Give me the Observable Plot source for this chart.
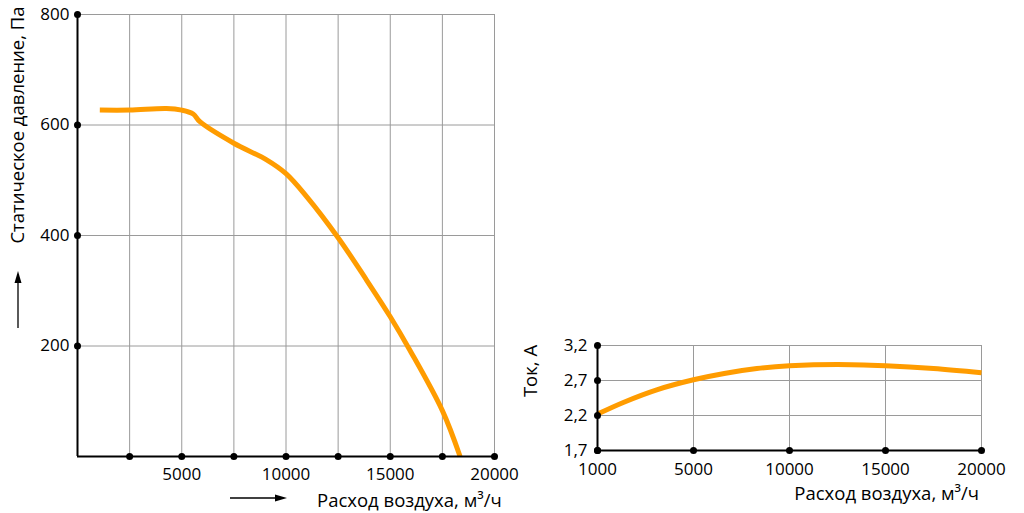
<!DOCTYPE html>
<html><head><meta charset="utf-8">
<script src="https://cdn.jsdelivr.net/npm/d3@7"></script>
<script src="https://cdn.jsdelivr.net/npm/@observablehq/plot@0.6"></script>
<style>
body{margin:0;background:#fff;}
#wrap{position:relative;width:1024px;height:513px;font-family:"Open Sans",sans-serif;overflow:hidden;}
#wrap svg{position:absolute;top:0;}
</style></head><body><div id="wrap"></div>
<script>
// Left chart: static pressure vs air flow
const pressureFlow   = [1070, 2500, 4270, 5000, 5550, 5870, 7500, 9070, 10000, 11000, 12500, 13870, 15000, 15950, 17500, 18350];
const pressureValues = [627,  627,  630,  627,  620,  606,  567,  537,  512,   470,   396,   319,   253,   192,   83,    0];
const pressureXGrid  = [2500, 5000, 7500, 10000, 12500, 15000, 17500, 20000];
const pressureXTicks = [5000, 10000, 15000, 20000];
const pressureYTicks = [200, 400, 600, 800];

// Right chart: current vs air flow
const currentFlow   = [1000, 2100, 3500, 5000, 6600, 8300, 10000, 12500, 15000, 17500, 20000];
const currentValues = [2.22, 2.39, 2.57, 2.71, 2.80, 2.87, 2.91,  2.93,  2.91,  2.87,  2.81];
const currentXTicks = [1000, 5000, 10000, 15000, 20000];
const currentYTicks = [1.7, 2.2, 2.7, 3.2];

const flowLabel = "Расход воздуха, м³/ч";
const pressureLabel = "Статическое давление, Па";
const currentLabel = "Ток, А";

const orange = "#ff9c00";
const gridColor = "#9a9a9a";
const wrap = document.getElementById("wrap");

const pressureData = pressureFlow.map((f, i) => ({flow: f, p: pressureValues[i]}));
const left = Plot.plot({
  width: 520, height: 513,
  marginLeft: 77, marginRight: 26, marginTop: 14, marginBottom: 57,
  style: {fontFamily: "Open Sans", fontSize: "17px", background: "transparent", overflow: "visible"},
  x: {domain: [0, 20000]},
  y: {domain: [0, 800]},
  marks: [
    Plot.ruleX(pressureXGrid, {stroke: gridColor, strokeWidth: 1}),
    Plot.ruleY(pressureYTicks, {stroke: gridColor, strokeWidth: 1}),
    Plot.line(pressureData, {x: "flow", y: "p", stroke: orange, strokeWidth: 5, curve: "catmull-rom", strokeLinecap: "butt"}),
    Plot.ruleX([0], {stroke: "#000", strokeWidth: 2}),
    Plot.ruleY([0], {stroke: "#000", strokeWidth: 2}),
    Plot.dot(pressureXGrid, {x: d => d, y: 0, r: 3.5, fill: "#000"}),
    Plot.dot(pressureYTicks, {x: 0, y: d => d, r: 3.5, fill: "#000"}),
    Plot.axisX(pressureXTicks, {tickSize: 0, tickPadding: 11, tickFormat: d => String(d), label: null}),
    Plot.axisY(pressureYTicks, {tickSize: 0, tickPadding: 8, tickFormat: d => String(d), label: null})
  ]
});
left.style.left = "0px";
wrap.appendChild(left);

const ls = d3.select(left);
ls.append("text").attr("transform", "translate(24,125) rotate(-90)")
  .attr("text-anchor", "middle").attr("font-size", 18.5).attr("fill", "#000").text(pressureLabel);
ls.append("text").attr("x", 317).attr("y", 507)
  .attr("text-anchor", "start").attr("font-size", 18.5).attr("fill", "#000").text(flowLabel);
// arrows
ls.append("line").attr("x1", 18).attr("y1", 328).attr("x2", 18).attr("y2", 280).attr("stroke", "#000").attr("stroke-width", 1.3);
ls.append("path").attr("d", "M18,271 L14.5,283 L21.5,283 Z").attr("fill", "#000");
ls.append("line").attr("x1", 230).attr("y1", 498).attr("x2", 278).attr("y2", 498).attr("stroke", "#000").attr("stroke-width", 1.3);
ls.append("path").attr("d", "M287,498 L275,494.5 L275,501.5 Z").attr("fill", "#000");

// Right chart: evenly spaced flow ticks
const flowPos = d3.scaleLinear().domain(currentXTicks).range(currentXTicks.map((_, i) => i));
const currentData = currentFlow.map((f, i) => ({pos: flowPos(f), a: currentValues[i]}));
const tickPos = currentXTicks.map(f => flowPos(f));
const right = Plot.plot({
  width: 504, height: 513,
  marginLeft: 77, marginRight: 43, marginTop: 345, marginBottom: 63,
  style: {fontFamily: "Open Sans", fontSize: "17px", background: "transparent", overflow: "visible"},
  x: {domain: [0, currentXTicks.length - 1]},
  y: {domain: [1.7, 3.2]},
  marks: [
    Plot.ruleX(tickPos.slice(1), {stroke: gridColor, strokeWidth: 1}),
    Plot.ruleY(currentYTicks.slice(1), {stroke: gridColor, strokeWidth: 1}),
    Plot.line(currentData, {x: "pos", y: "a", stroke: orange, strokeWidth: 5, curve: "catmull-rom", strokeLinecap: "butt"}),
    Plot.ruleX([0], {stroke: "#000", strokeWidth: 2}),
    Plot.ruleY([1.7], {stroke: "#000", strokeWidth: 2}),
    Plot.dot(tickPos, {x: d => d, y: 1.7, r: 3.5, fill: "#000"}),
    Plot.dot(currentYTicks, {x: 0, y: d => d, r: 3.5, fill: "#000"}),
    Plot.axisX(tickPos, {tickSize: 0, tickPadding: 12, tickFormat: i => String(currentXTicks[i]), label: null}),
    Plot.axisY(currentYTicks, {tickSize: 0, tickPadding: 10, tickFormat: d => d.toFixed(1).replace(".", ","), label: null})
  ]
});
right.style.left = "520px";
wrap.appendChild(right);

const rs = d3.select(right);
rs.append("text").attr("transform", "translate(17,371) rotate(-90)")
  .attr("text-anchor", "middle").attr("font-size", 18.5).attr("fill", "#000").text(currentLabel);
rs.append("text").attr("x", 459).attr("y", 500)
  .attr("text-anchor", "end").attr("font-size", 18.5).attr("fill", "#000").text(flowLabel);
</script>
</body></html>
